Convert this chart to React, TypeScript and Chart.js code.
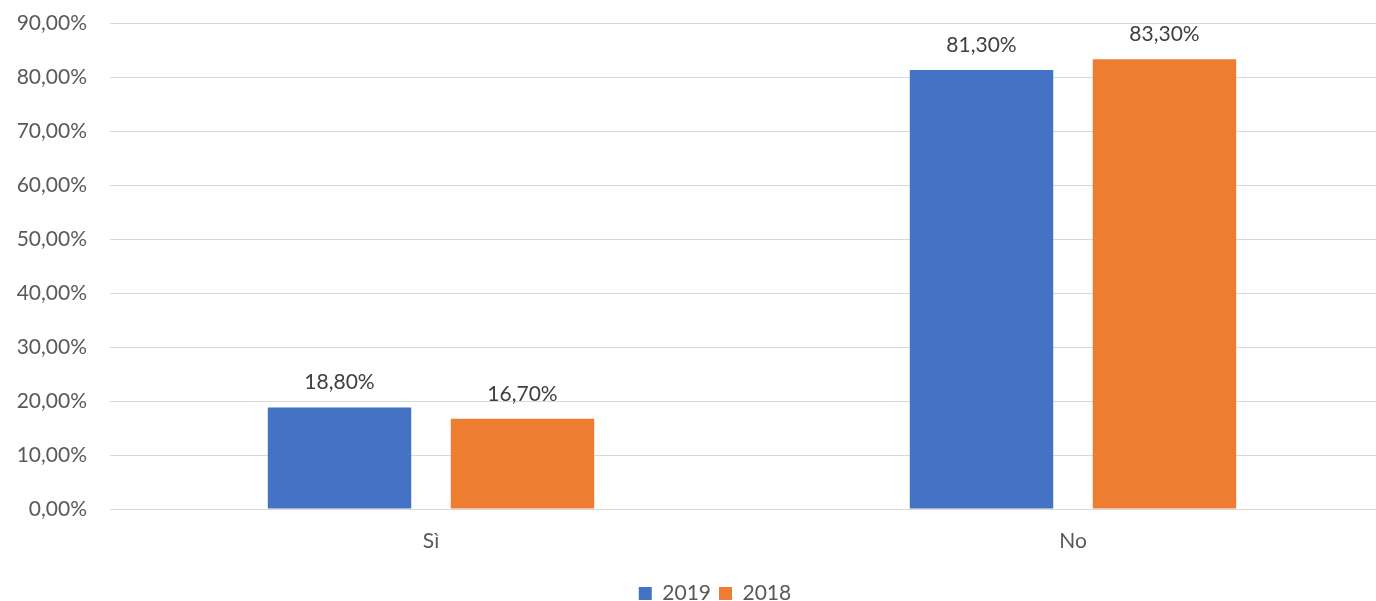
import React, { useEffect, useRef } from "react";
import { Chart, registerables } from "chart.js";

Chart.register(...registerables);

const categories = ["Sì", "No"];
const series2019 = [18.8, 81.3];
const series2018 = [16.7, 83.3];
const seriesLabels = ["2019", "2018"];
const yTicksMax = 90;

const FONT = "Lato, 'Open Sans', sans-serif";
const fmt = (v: number) => v.toFixed(2).replace(".", ",") + "%";

const valueLabels = {
  id: "valueLabels",
  afterDatasetsDraw(chart: any) {
    const ctx = chart.ctx;
    ctx.save();
    ctx.font = `21px ${FONT}`;
    ctx.fillStyle = "#404040";
    ctx.textAlign = "center";
    ctx.textBaseline = "middle";
    chart.data.datasets.forEach((ds: any, i: number) => {
      const meta = chart.getDatasetMeta(i);
      meta.data.forEach((bar: any, j: number) => {
        ctx.fillText(fmt(ds.data[j]), bar.x, bar.y - 25);
      });
    });
    ctx.restore();
  },
};

export default function App() {
  const ref = useRef<HTMLCanvasElement>(null);
  useEffect(() => {
    if (!ref.current) return;
    const chart = new Chart(ref.current, {
      type: "bar",
      data: {
        labels: categories,
        datasets: [
          { label: seriesLabels[0], data: series2019, backgroundColor: "#4472C4" },
          { label: seriesLabels[1], data: series2018, backgroundColor: "#ED7D31" },
        ],
      },
      options: {
        responsive: false,
        animation: false,
        devicePixelRatio: 1,
        datasets: { bar: { categoryPercentage: 0.57, barPercentage: 0.784 } },
        layout: { padding: { left: 0, right: 0, top: 23, bottom: 0 } },
        plugins: {
          tooltip: { enabled: false },
          legend: {
            position: "bottom",
            labels: {
              boxWidth: 13,
              boxHeight: 13,
              padding: 8,
              color: "#595959",
              font: { family: FONT, size: 21 },
            },
          },
        },
        scales: {
          x: {
            afterFit: (axis: any) => { axis.height = 66; },
            grid: { display: false, drawTicks: false, tickLength: 0 },
            border: { display: false },
            ticks: { color: "#595959", padding: 20, font: { family: FONT, size: 21 } },
          },
          y: {
            min: 0,
            max: yTicksMax,
            afterFit: (axis: any) => { axis.width = 110; axis.paddingTop = 0; axis.paddingBottom = 0; },
            grid: { color: "#D9D9D9", lineWidth: 1, drawTicks: false, tickLength: 0 },
            border: { display: false },
            ticks: {
              stepSize: 10,
              padding: 23,
              color: "#595959",
              font: { family: FONT, size: 21 },
              callback: (v: any) => fmt(Number(v)),
            },
          },
          yRight: {
            position: "right",
            display: true,
            afterFit: (axis: any) => { axis.width = 36; axis.paddingTop = 0; axis.paddingBottom = 0; },
            grid: { display: false, drawTicks: false, tickLength: 0 },
            border: { display: false },
            ticks: { display: false },
          },
        },
      },
      plugins: [valueLabels],
    });
    return () => chart.destroy();
  }, []);
  return (
    <div style={{ position: "fixed", left: 0, top: 0, width: 1376, height: 601, overflow: "hidden", background: "#fff" }}>
      <canvas ref={ref} width={1430} height={614} style={{ width: 1430, height: 614, display: "block" }} />
    </div>
  );
}
